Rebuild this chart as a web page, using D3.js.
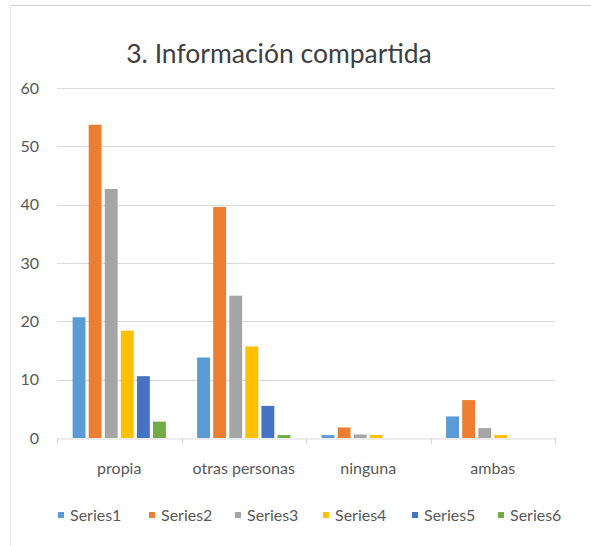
<!DOCTYPE html>
<html><head><meta charset="utf-8">
<script src="https://cdn.jsdelivr.net/npm/d3@7"></script>
<style>body{margin:0;background:#fff}svg{display:block}</style>
</head><body>
<svg id="c" width="591" height="546"></svg>
<script>
const title = "3. Información compartida";
const categories = ["propia", "otras personas", "ninguna", "ambas"];
const seriesNames = ["Series1", "Series2", "Series3", "Series4", "Series5", "Series6"];
const series1 = [20.7, 13.8, 0.5, 3.7];
const series2 = [53.7, 39.6, 1.8, 6.5];
const series3 = [42.7, 24.4, 0.6, 1.7];
const series4 = [18.4, 15.7, 0.5, 0.5];
const series5 = [10.6, 5.5, 0, 0];
const series6 = [2.8, 0.5, 0, 0];
const yTicks = [0, 10, 20, 30, 40, 50, 60];
const colors = ["#5B9BD5", "#ED7D31", "#A5A5A5", "#FFC000", "#4472C4", "#70AD47"];

(function () {
const allSeries = [series1, series2, series3, series4, series5, series6];
const svg = d3.select("#c");
const font = "Lato, 'Open Sans', sans-serif";
const small = "16px";

// chart border (top and left)
svg.append("line").attr("x1", 10).attr("x2", 591).attr("y1", 5.5).attr("y2", 5.5).attr("stroke", "#d9d9d9").attr("stroke-width", 1.5);
svg.append("line").attr("x1", 10.5).attr("x2", 10.5).attr("y1", 5).attr("y2", 546).attr("stroke", "#e6e6e6").attr("stroke-width", 1);

const pl = 57, pr = 555, pt = 88, pb = 438;
const x0 = d3.scaleBand().domain(categories).range([pl, pr]).padding(0);
const x1 = d3.scaleBand().domain(seriesNames).range([14, x0.bandwidth() - 14]).paddingInner(0.2).paddingOuter(0.1);
const y = d3.scaleLinear().domain([0, 60]).range([pb, pt]);

// gridlines
svg.append("g").selectAll("line").data(yTicks.filter(d => d > 0)).join("line")
  .attr("x1", pl).attr("x2", pr)
  .attr("y1", d => Math.round(y(d)) + 0.5).attr("y2", d => Math.round(y(d)) + 0.5)
  .attr("stroke", "#d9d9d9").attr("stroke-width", 1.2);

// y labels
const yAxis = d3.axisLeft(y).tickValues(yTicks).tickSize(0).tickPadding(0);
const gy = svg.append("g").attr("transform", `translate(39,0)`).call(yAxis);
gy.select(".domain").remove();
gy.selectAll("text").attr("fill", "#595959").style("font-family", font).style("font-size", small);

// bars
const data = [];
categories.forEach((c, i) => seriesNames.forEach((s, j) => data.push({c, s, v: allSeries[j][i], col: colors[j]})));
svg.append("g").selectAll("rect").data(data).join("rect")
  .attr("x", d => x0(d.c) + x1(d.s))
  .attr("width", x1.bandwidth())
  .attr("y", d => y(d.v))
  .attr("height", d => pb - y(d.v))
  .attr("fill", d => d.col);

// x axis
const xAxis = d3.axisBottom(x0).tickSize(0).tickPadding(0).tickFormat(() => "");
const gx = svg.append("g").attr("transform", `translate(0,${pb + 0.5})`).call(xAxis);
gx.select(".domain").attr("stroke", "#d9d9d9").attr("stroke-width", 1.2);
gx.selectAll(".tick").remove();
const bounds = categories.map(c => x0(c)).concat([pr]);
svg.append("g").selectAll("line").data(bounds).join("line")
  .attr("x1", d => Math.round(d) + 0.5).attr("x2", d => Math.round(d) + 0.5)
  .attr("y1", pb).attr("y2", pb + 6)
  .attr("stroke", "#d9d9d9").attr("stroke-width", 1.2);

svg.append("g").selectAll("text").data(categories).join("text")
  .attr("x", d => x0(d) + x0.bandwidth() / 2).attr("y", 474)
  .attr("text-anchor", "middle").attr("fill", "#595959")
  .style("font-family", font).style("font-size", small).text(d => d);

// title
svg.append("text").attr("x", 279).attr("y", 63).attr("text-anchor", "middle")
  .attr("fill", "#404040").style("font-family", font).style("font-size", "26.5px").text(title);

// legend
const legX = [58, 149, 235, 323, 412, 498];
const leg = svg.append("g").selectAll("g").data(seriesNames).join("g")
  .attr("transform", (d, i) => `translate(${legX[i]},515)`);
leg.append("rect").attr("x", 0).attr("y", -3).attr("width", 6).attr("height", 6).attr("fill", (d, i) => colors[i]);
leg.append("text").attr("x", 12).attr("y", 5.5).attr("fill", "#595959")
  .style("font-family", font).style("font-size", small).text(d => d);
})();
</script>
</body></html>
